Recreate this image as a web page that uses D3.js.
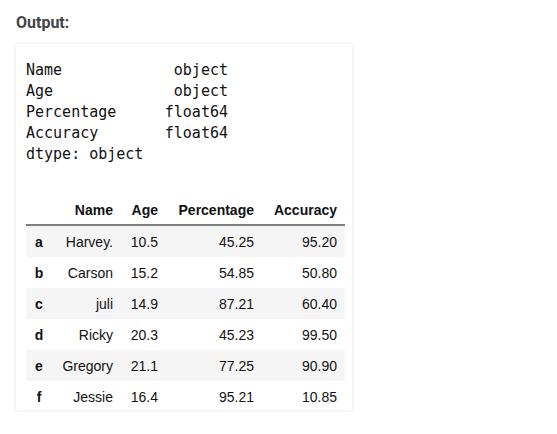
<!DOCTYPE html>
<html><head><meta charset="utf-8">
<script src="https://cdn.jsdelivr.net/npm/d3@7"></script>
<style>body{margin:0;background:#fff}</style></head>
<body><svg id="c" width="557" height="434"></svg>
<script>
const dtypeNames = ["Name","Age","Percentage","Accuracy","dtype: object"];
const dtypeVals = ["object","object","float64","float64",""];
const columns = ["Name","Age","Percentage","Accuracy"];
const index = ["a","b","c","d","e","f"];
const names = ["Harvey.","Carson","juli","Ricky","Gregory","Jessie"];
const ages = ["10.5","15.2","14.9","20.3","21.1","16.4"];
const percentage = ["45.25","54.85","87.21","45.23","77.25","95.21"];
const accuracy = ["95.20","50.80","60.40","99.50","90.90","10.85"];

const svg = d3.select("#c");
const defs = svg.append("defs");
const f = defs.append("filter").attr("id","sh").attr("x","-5%").attr("y","-5%").attr("width","110%").attr("height","110%");
f.append("feDropShadow").attr("dx",0).attr("dy",0).attr("stdDeviation",1.5).attr("flood-color","#000").attr("flood-opacity",0.12);

svg.append("text").attr("x",16).attr("y",28).text("Output:")
  .attr("font-family","'Liberation Sans Narrow','Roboto',sans-serif").attr("font-weight","bold")
  .attr("font-size",16).attr("fill","#444");

svg.append("rect").attr("x",16).attr("y",44).attr("width",336).attr("height",366).attr("fill","#fff").attr("filter","url(#sh)");

const mono = svg.append("g").attr("font-family","'DejaVu Sans Mono',monospace").attr("font-size",15).attr("fill","#111");
const ly = d3.scaleLinear().domain([0,1]).range([75,96]);
mono.selectAll(".n").data(dtypeNames).join("text").attr("x",26).attr("y",(d,i)=>ly(i)).text(d=>d);
mono.selectAll(".v").data(dtypeVals).join("text").attr("x",228).attr("text-anchor","end").attr("y",(d,i)=>ly(i)).text(d=>d);

const rows = d3.scaleBand().domain(index).range([226,412]).padding(0);
const t = svg.append("g").attr("font-family","Arial,'Liberation Sans',sans-serif").attr("font-size",14).attr("fill","#111");
t.selectAll(".stripe").data(index.filter((d,i)=>i%2===0)).join("rect")
  .attr("x",26).attr("width",319).attr("y",d=>rows(d)).attr("height",rows.bandwidth()).attr("fill","#f5f5f5");
t.append("line").attr("x1",26).attr("x2",345).attr("y1",225).attr("y2",225).attr("stroke","#000").attr("stroke-width",1);

const colRight = [113,158,254,337];
t.selectAll(".h").data(columns).join("text").attr("x",(d,i)=>colRight[i]).attr("y",215)
  .attr("text-anchor","end").attr("font-weight","bold").text(d=>d);
const cols=[names,ages,percentage,accuracy];
const yc = d=>rows(d)+rows.bandwidth()/2+5;
t.selectAll(".idx").data(index).join("text").attr("x",39).attr("text-anchor","middle").attr("y",yc).attr("font-weight","bold").text(d=>d);
cols.forEach((arr,ci)=>{
  t.selectAll(".c"+ci).data(index).join("text").attr("x",colRight[ci]).attr("text-anchor","end").attr("y",yc).text((d,i)=>arr[i]);
});
</script></body></html>
